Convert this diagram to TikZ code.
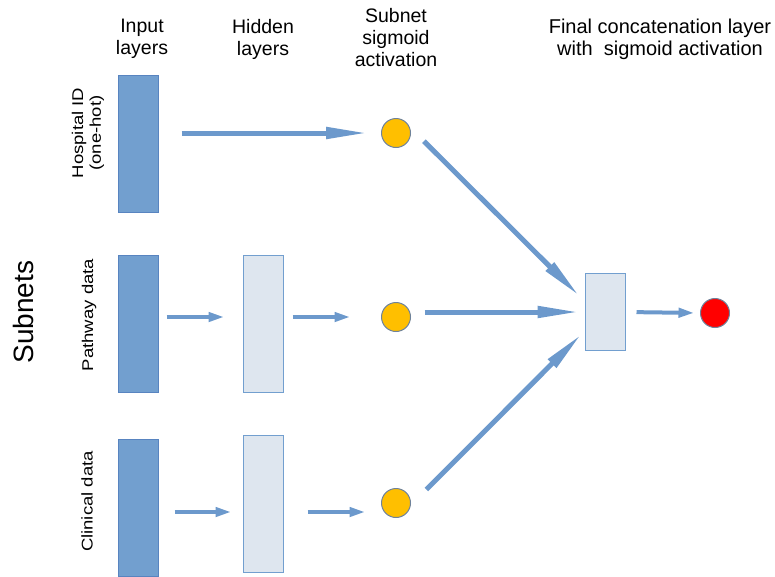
\documentclass[tikz,border=0pt]{standalone}
\usepackage{fontspec}
\setmainfont{Liberation Sans}
\usepackage{tikz}
\usetikzlibrary{arrows.meta}
\definecolor{inblue}{RGB}{114,159,207}
\definecolor{inedge}{RGB}{88,132,192}
\definecolor{hidfill}{RGB}{222,230,239}
\definecolor{sigfill}{RGB}{255,191,0}
\definecolor{ringgray}{RGB}{110,130,155}
\definecolor{arrblue}{RGB}{108,153,204}

\begin{document}
\begin{tikzpicture}[x=1pt,y=-1pt,
  input layer/.style={rectangle,draw=inedge,fill=inblue,minimum width=40pt,minimum height=137pt,inner sep=0pt,line width=1pt},
  hidden layer/.style={rectangle,draw=inblue,fill=hidfill,minimum width=40pt,minimum height=137pt,inner sep=0pt,line width=1pt},
  act node/.style={circle,draw=ringgray,minimum size=29pt,inner sep=0pt,line width=1pt},
  head/.style={font=\fontsize{19.5}{22}\selectfont,align=center,anchor=north,inner sep=0pt},
  side/.style={font=\fontsize{18.5}{21}\selectfont,align=center,rotate=90,yscale=0.84,inner sep=0pt},
  long arrow/.style={-{Triangle[length=42pt,width=11pt]},line width=5pt,draw=arrblue},
  short arrow/.style={-{Triangle[length=16pt,width=9pt]},line width=4pt,draw=arrblue}]

	\useasboundingbox (0,0) rectangle (775,576);

	\node[head] (hin) at (142,19) {Input\\layers};
	\node[head] (hhid) at (263,19) {Hidden\\layers};
	\node[head] (hsig) at (396,8) {Subnet\\sigmoid\\activation};
	\node[head,font=\fontsize{20}{22}\selectfont] (hfin) at (660,19) {Final concatenation layer\\with\ \ sigmoid activation};

	\node[font=\fontsize{28}{30}\selectfont,rotate=90,inner sep=0pt] (subnets) at (23,312) {Subnets};
	\node[side] (lhosp) at (88,133) {Hospital ID\\(one-hot)};
	\node[side] (lpath) at (89,315) {Pathway data};
	\node[side] (lclin) at (87,501.5) {Clinical data};

	\node[input layer] (in1) at (138,143.5) {};
	\node[input layer] (in2) at (138,323.5) {};
	\node[input layer] (in3) at (138,507.5) {};
	\node[hidden layer] (hid2) at (263,323.5) {};
	\node[hidden layer] (hid3) at (263,503.5) {};
	\node[act node,fill=sigfill] (c1) at (396,133) {};
	\node[act node,fill=sigfill] (c2) at (396,317) {};
	\node[act node,fill=sigfill] (c3) at (396,503) {};
	\node[hidden layer,minimum height=77pt] (fin) at (605,312) {};
	\node[act node,fill=red] (out) at (715,313) {};

	\draw[long arrow,shorten <=23pt,shorten >=13pt] (in1.east |- c1.west) -- (c1.west);
	\draw[short arrow,shorten <=8pt,shorten >=18pt] (in2.east |- c2) -- (hid2.west |- c2);
	\draw[short arrow,shorten <=9pt,shorten >=30.5pt] (hid2.east |- c2) -- (c2.west);
	\draw[short arrow,shorten <=16pt,shorten >=11pt] ([yshift=-4.5pt]in3.east) -- ([yshift=-8.5pt]hid3.west);
	\draw[short arrow,shorten <=24pt,shorten >=15.5pt] ([yshift=-8.5pt]hid3.east) -- ([yshift=-9pt]c3.west);

	\draw[long arrow,shorten <=20pt,shorten >=7pt] (c1.23) -- (fin.152);
	\draw[long arrow,shorten <=13.5pt,shorten >=5pt] (c2.east |- fin.west) -- (fin.west);
	\draw[long arrow,shorten <=22pt,shorten >=4pt] (c3.-8) -- (fin.223.5);
	\draw[short arrow,shorten <=11pt,shorten >=5.5pt] (fin.east) -- (out.west);
\end{tikzpicture}
\end{document}
